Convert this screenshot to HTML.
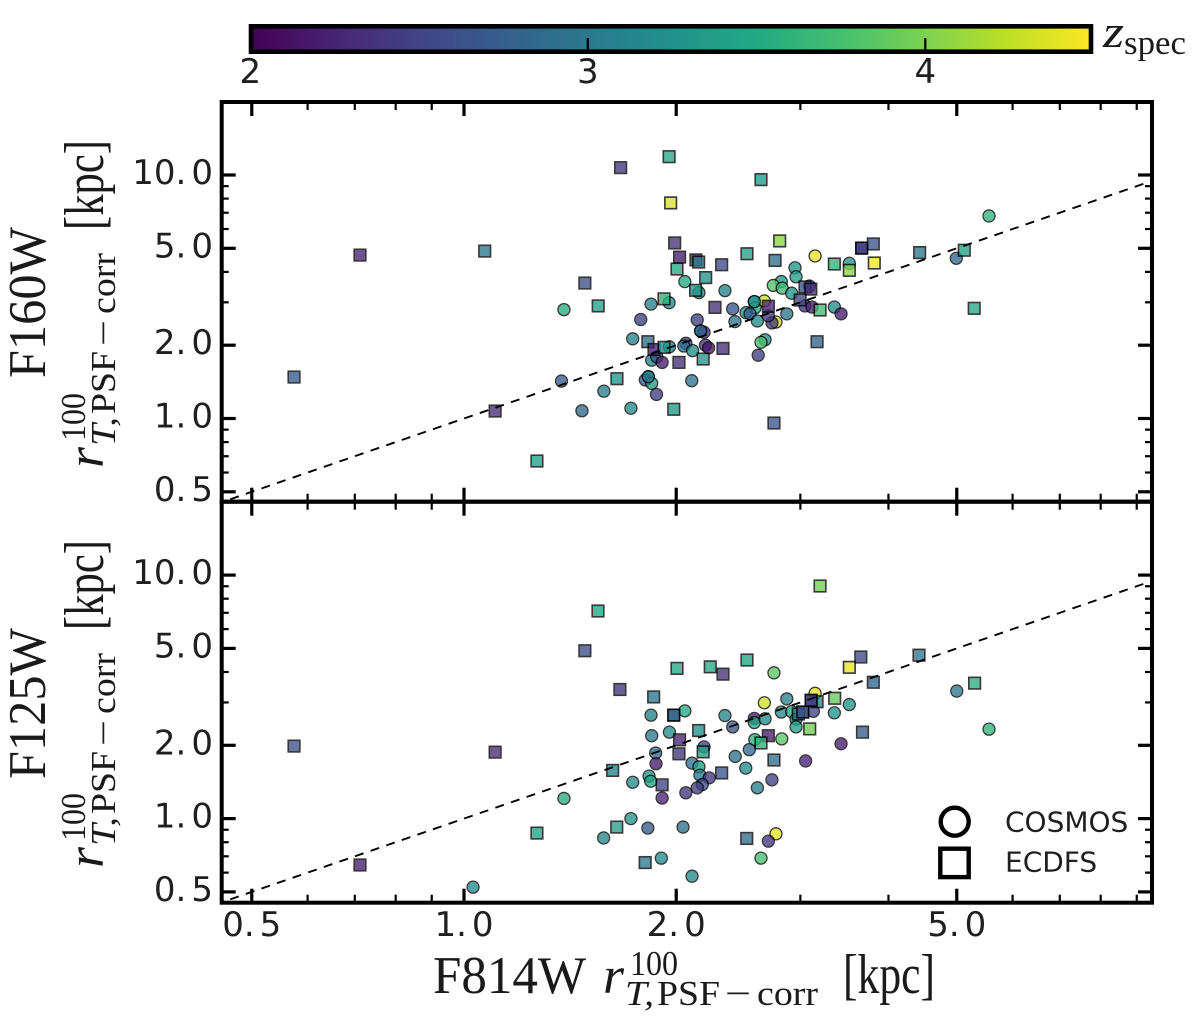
<!DOCTYPE html>
<html lang="en">
<head>
<meta charset="utf-8">
<title>F814W vs F160W and F125W sizes</title>
<style>
html,body{margin:0;padding:0;background:#fff;}
svg{display:block;}
.tick{font-family:"DejaVu Sans","Liberation Sans",sans-serif;font-size:34px;fill:#1f1f1f;}
.leg{font-family:"DejaVu Sans","Liberation Sans",sans-serif;font-size:28px;fill:#1f1f1f;}
.s{font-family:"Liberation Serif",serif;fill:#1a1a1a;}
.i{font-style:italic;}
</style>
</head>
<body>
<svg id="chart" xmlns="http://www.w3.org/2000/svg" width="1200" height="1022" viewBox="0 0 1200 1022">
<rect x="0" y="0" width="1200" height="1022" fill="#fff"/>
<defs><linearGradient id="cbGrad" x1="0" y1="0" x2="1" y2="0"></linearGradient></defs>

<g id="colorbar">
<rect x="251" y="27" width="840" height="24" fill="url(#cbGrad)"/>
<g id="cbTicks"></g>
<rect x="251" y="26.3" width="840" height="25.4" fill="none" stroke="#000" stroke-width="4.6"/>
</g>
<g>
<text class="s i" x="1103" y="47" font-size="46" textLength="21" lengthAdjust="spacingAndGlyphs">z</text>
<text class="s" x="1124" y="54" font-size="34" textLength="62" lengthAdjust="spacingAndGlyphs">spec</text>
</g>

<g id="panelTop"></g>
<g id="panelBot"></g>

<g><text class="s" transform="translate(45,378) rotate(-90)" font-size="53" textLength="151" lengthAdjust="spacingAndGlyphs">F160W</text></g>
<g transform="translate(103,468) rotate(-90)">
<text class="s i" x="0" y="0" font-size="52" textLength="21" lengthAdjust="spacingAndGlyphs">r</text>
<text class="s" x="27" y="-18" font-size="35" textLength="48" lengthAdjust="spacingAndGlyphs">100</text>
<text class="s i" x="22" y="12" font-size="35" textLength="29" lengthAdjust="spacingAndGlyphs">T,</text>
<text class="s" x="54" y="12" font-size="35" textLength="63" lengthAdjust="spacingAndGlyphs">PSF</text>
<text class="s" x="122" y="12" font-size="35" textLength="26" lengthAdjust="spacingAndGlyphs">−</text>
<text class="s" x="154" y="12" font-size="35" textLength="61" lengthAdjust="spacingAndGlyphs">corr</text>
<text class="s" x="238" y="0" font-size="56" textLength="90" lengthAdjust="spacingAndGlyphs">[kpc]</text>
</g>
<g><text class="s" transform="translate(45,779) rotate(-90)" font-size="53" textLength="151" lengthAdjust="spacingAndGlyphs">F125W</text></g>
<g transform="translate(103,868) rotate(-90)">
<text class="s i" x="0" y="0" font-size="52" textLength="21" lengthAdjust="spacingAndGlyphs">r</text>
<text class="s" x="27" y="-18" font-size="35" textLength="48" lengthAdjust="spacingAndGlyphs">100</text>
<text class="s i" x="22" y="12" font-size="35" textLength="29" lengthAdjust="spacingAndGlyphs">T,</text>
<text class="s" x="54" y="12" font-size="35" textLength="63" lengthAdjust="spacingAndGlyphs">PSF</text>
<text class="s" x="122" y="12" font-size="35" textLength="26" lengthAdjust="spacingAndGlyphs">−</text>
<text class="s" x="154" y="12" font-size="35" textLength="61" lengthAdjust="spacingAndGlyphs">corr</text>
<text class="s" x="238" y="0" font-size="56" textLength="90" lengthAdjust="spacingAndGlyphs">[kpc]</text>
</g>
<g>
<text class="s" x="433" y="993" font-size="53" textLength="153" lengthAdjust="spacingAndGlyphs">F814W</text>
<g transform="translate(603,993)">
<text class="s i" x="0" y="0" font-size="52" textLength="21" lengthAdjust="spacingAndGlyphs">r</text>
<text class="s" x="27" y="-18" font-size="35" textLength="48" lengthAdjust="spacingAndGlyphs">100</text>
<text class="s i" x="22" y="12" font-size="35" textLength="29" lengthAdjust="spacingAndGlyphs">T,</text>
<text class="s" x="54" y="12" font-size="35" textLength="63" lengthAdjust="spacingAndGlyphs">PSF</text>
<text class="s" x="122" y="12" font-size="35" textLength="26" lengthAdjust="spacingAndGlyphs">−</text>
<text class="s" x="154" y="12" font-size="35" textLength="61" lengthAdjust="spacingAndGlyphs">corr</text>
<text class="s" x="240" y="0" font-size="56" textLength="92" lengthAdjust="spacingAndGlyphs">[kpc]</text>
</g>
</g>

<g>
<g>
<circle cx="954.7" cy="821.7" r="14" fill="#fff" stroke="#000" stroke-width="4.4"/>
<text class="leg" x="1005" y="831.5">COSMOS</text>
</g>
<g>
<rect x="940.3" y="848.7" width="28.4" height="28.4" fill="#fff" stroke="#000" stroke-width="4.4"/>
<text class="leg" x="1005" y="871.5">ECDFS</text>
</g>
</g>
</svg>
<script>
// Axis ticks
const xMajorTicks = [0.5, 1, 2, 5];
const xMajorLabels = ['0.5', '1.0', '2.0', '5.0'];
const yMajorTicks = [0.5, 1, 2, 5, 10];
const yMajorLabels = ['0.5', '1.0', '2.0', '5.0', '10.0'];
const minorTicksX = [0.6, 0.7, 0.8, 0.9, 3, 4, 6, 7, 8, 9];
const minorTicksY = [0.6, 0.7, 0.8, 0.9, 3, 4, 6, 7, 8, 9];
const zTicks = [2, 3, 4];
const zLabels = ['2', '3', '4'];
const viridis = ['#440154','#482475','#414487','#355f8d','#2a788e','#21918c','#22a884','#44bf70','#7ad151','#bddf26','#fde725'];
const zRange = [2, 4.49];
const oneToOne = [0.4, 10];

// F160W panel, COSMOS
const f160CosmosX = [5.555,4.992,3.148,3.52,2.948,2.958,2.819,2.746,2.827,2.916,3.09,2.057,2.154,2.345,2.581,2.667,2.587,2.512,2.405,2.545,2.87,2.607,2.423,1.842,1.954,1.386,1.781,2.142,2.166,2.19,2.77,2.734,2.702,3.046,3.116,3.352,3.426,1.735,1.956,2.064,2.05,2.11,2.2,2.223,1.846,1.877,1.91,1.375,1.579,1.47,1.725,1.826,1.808,1.846,1.875,2.104,2.614,2.673,2.638,2.166,2.581,1.826];
const f160CosmosY = [6.79,4.55,4.65,4.34,4.16,3.82,3.65,3.52,3.43,3.27,3.5,3.65,3.29,3.35,3.02,3.04,2.85,2.72,2.82,2.69,2.69,2.515,2.5,2.95,2.99,2.8,2.55,2.54,2.29,2.26,2.49,2.47,2.64,2.9,2.87,2.87,2.69,2.125,1.97,2.036,1.985,1.9,2.0,1.95,1.735,1.79,1.7,1.425,1.295,1.076,1.102,1.485,1.44,1.395,1.256,1.43,1.82,2.106,2.055,2.29,3.02,1.485];
const f160CosmosZ = [3.6,2.85,4.4,3.3,3.3,3.4,3.3,3.8,3.7,3.3,2.5,3.5,3.3,3.1,3.4,4.3,3.5,3.3,2.65,2.7,3.0,3.2,3.0,3.1,3.2,3.55,2.45,2.45,2.9,2.4,4.35,2.4,2.4,2.4,2.25,3.2,2.2,3.1,3.1,2.5,2.9,3.2,2.35,2.15,3.1,2.6,2.2,2.7,3.1,2.85,3.2,3.2,2.7,3.35,2.45,2.95,2.45,3.2,3.75,2.8,3.3,3.0];

// F160W panel, ECDFS
const f160EcdfsX = [1.668,1.954,2.638,1.964,1.99,2.804,2.022,2.133,2.152,2.32,2.52,2.762,3.665,3.807,3.352,3.52,3.819,2.005,2.202,1.484,2.131,1.922,1.55,2.27,3.046,3.104,2.997,2.702,3.199,1.823,1.86,1.922,2.33,2.018,2.184,3.168,1.648,1.984,2.752,0.574,0.712,1.07,1.107,1.269,4.429,5.124,5.293,3.665];
const f160EcdfsY = [10.72,11.89,9.57,7.68,5.26,5.36,4.6,4.48,4.39,4.28,4.75,4.46,5.01,5.21,4.31,4.06,4.35,4.11,3.79,3.6,3.36,3.1,2.9,2.86,3.47,3.4,3.067,2.89,2.79,2.067,1.92,1.96,1.94,1.7,1.755,2.067,1.457,1.091,0.958,1.48,4.69,4.87,1.073,0.669,4.8,4.91,2.835,5.01];
const f160EcdfsZ = [2.4,3.5,3.35,4.35,2.35,4.05,2.2,2.3,3.0,2.55,3.45,2.9,2.55,2.65,3.6,4.05,4.45,3.5,3.25,2.6,3.3,3.6,3.4,2.35,2.6,2.3,2.5,2.25,3.7,2.9,2.2,3.2,2.3,2.35,3.3,2.8,3.3,3.35,2.65,2.7,2.25,3.0,2.3,3.4,3.0,3.4,3.5,2.4];

// F125W panel, COSMOS
const f125CosmosX = [2.752,3.148,2.87,2.667,3.52,3.352,2.057,1.842,2.345,2.405,2.581,2.581,2.673,2.819,2.916,2.958,2.958,3.13,1.956,1.846,2.823,2.585,2.539,3.426,2.425,1.87,2.19,3.052,1.872,2.106,2.154,2.51,2.161,2.227,2.734,1.83,1.84,1.735,2.607,2.178,2.142,2.064,1.91,1.386,1.725,1.823,2.045,1.578,2.77,2.702,2.638,1.905,2.106,1.03,5.0,5.555];
const f125CosmosY = [3.97,3.27,3.1,2.99,2.94,2.72,2.77,2.66,2.65,2.38,2.58,2.48,2.57,2.74,2.75,2.56,2.38,2.76,2.265,2.19,2.125,2.11,1.92,2.03,1.8,1.86,1.97,1.725,1.68,1.69,1.632,1.612,1.509,1.47,1.443,1.494,1.424,1.41,1.338,1.38,1.338,1.277,1.215,1.21,1.0,0.914,0.923,0.833,0.866,0.808,0.688,0.688,0.58,0.523,3.34,2.33];
const f125CosmosZ = [3.85,4.4,3.1,4.3,3.3,3.25,3.5,3.1,3.15,2.65,2.2,3.45,3.2,3.2,3.5,3.3,3.4,2.5,3.2,3.0,3.85,3.6,2.85,2.2,2.95,2.85,2.5,2.25,2.2,2.95,3.4,3.2,3.0,2.4,2.45,3.3,3.45,3.2,3.1,2.55,2.45,2.4,2.25,3.55,3.3,2.7,2.95,3.15,4.4,2.4,3.75,3.2,3.2,3.2,3.0,3.6];

// F125W panel, ECDFS
const f125EcdfsX = [1.484,2.005,2.235,2.33,2.52,3.655,3.52,1.664,1.858,1.984,1.984,2.152,2.022,2.018,2.184,2.702,2.638,2.752,2.32,1.91,1.625,1.647,2.518,3.807,3.675,3.356,3.093,3.168,3.107,3.024,2.98,0.574,0.712,1.107,1.269,1.549,3.199,4.42,5.3,1.807,3.107,3.024];
const f125EcdfsY = [4.89,4.14,4.2,3.92,4.48,4.61,4.18,3.39,3.16,2.66,2.66,2.3,2.106,1.845,1.88,2.19,2.045,1.74,1.54,1.376,1.577,0.923,0.829,3.63,2.265,3.12,2.336,3.02,3.06,2.74,2.69,1.985,0.645,1.875,0.872,7.12,9.02,4.69,3.6,0.66,3.06,2.74];
const f125EcdfsZ = [2.6,3.5,3.5,2.35,3.45,2.55,4.4,2.4,3.0,2.4,2.9,3.25,2.25,2.4,3.45,2.2,3.6,2.9,2.65,2.5,3.1,3.4,2.9,2.8,2.75,3.9,3.95,3.1,2.3,2.7,2.9,2.65,2.2,2.3,3.45,3.45,3.95,3.0,3.55,3.0,2.5,2.6];

const SVGNS = 'http://www.w3.org/2000/svg';
const LEFT = 221.7, RIGHT = 1152;

function xScale(v) { return 464 + 705 * Math.log10(v); }
function yScaleTop(v) { return 418.5 - 243.5 * Math.log10(v); }
function yScaleBot(v) { return 818.6 - 243.5 * Math.log10(v); }
function cbScale(z) { return 250.3 + 337.5 * (z - 2); }

function hexToRgb(h) {
  return [parseInt(h.slice(1, 3), 16), parseInt(h.slice(3, 5), 16), parseInt(h.slice(5, 7), 16)];
}
function zColor(z) {
  const t = Math.min(1, Math.max(0, (z - zRange[0]) / (zRange[1] - zRange[0]))) * (viridis.length - 1);
  const i = Math.min(viridis.length - 2, Math.floor(t));
  const f = t - i;
  const a = hexToRgb(viridis[i]);
  const b = hexToRgb(viridis[i + 1]);
  return 'rgb(' + a.map(function (c, k) { return Math.round(c + (b[k] - c) * f); }).join(',') + ')';
}
function make(tag, attrs, parent) {
  const el = document.createElementNS(SVGNS, tag);
  Object.keys(attrs).forEach(function (k) { el.setAttribute(k, attrs[k]); });
  parent.appendChild(el);
  return el;
}
function addLabel(parent, label, x, y, anchor) {
  const t = make('text', { x: x, y: y, 'text-anchor': anchor, class: 'tick' }, parent);
  
  
  const parts = label.split('.');
  if (parts.length === 2) {
    const a = make('tspan', {}, t);
    a.textContent = parts[0] + '.';
    const b = make('tspan', { dx: 5 }, t);
    b.textContent = parts[1];
  } else {
    t.textContent = label;
  }
}
function addTick(parent, x1, y1, x2, y2, w) {
  const l = make('line', { x1: x1, y1: y1, x2: x2, y2: y2, stroke: '#000', 'stroke-width': w }, parent);
  
  
}

function drawPanel(group, yScale, top, bottom, circX, circY, circZ, sqX, sqY, sqZ, showXLabels) {
  // one-to-one dashed relation
  const clipId = group.id + 'Clip';
  const defs = make('defs', {}, group);
  const clip = make('clipPath', { id: clipId }, defs);
  make('rect', { x: LEFT, y: top, width: RIGHT - LEFT, height: bottom - top }, clip);

  const marks = make('g', { 'clip-path': 'url(#' + clipId + ')' }, group);
  
  

  circX.forEach(function (v, i) {
    const c = make('circle', {
      cx: xScale(v), cy: yScale(circY[i]), r: 6,
      fill: zColor(circZ[i]), stroke: '#000', 'stroke-width': 1.3, opacity: 0.78
    }, marks);
    
    
  });
  sqX.forEach(function (v, i) {
    const s = make('rect', {
      x: xScale(v) - 5.8, y: yScale(sqY[i]) - 5.8, width: 11.6, height: 11.6,
      fill: zColor(sqZ[i]), stroke: '#000', 'stroke-width': 1.6, opacity: 0.78
    }, marks);
    
    
  });
  const line = make('line', {
    x1: xScale(oneToOne[0]), y1: yScale(oneToOne[0]),
    x2: xScale(oneToOne[1]), y2: yScale(oneToOne[1]),
    stroke: '#000', 'stroke-width': 1.9, 'stroke-dasharray': '9 7.5'
  }, marks);
  
  

  // x ticks on bottom and top spines
  xMajorTicks.forEach(function (v, i) {
    const x = xScale(v);
    addTick(group, x, top, x, top + 14, 3.2);
    addTick(group, x, bottom, x, bottom - 14, 3.2);
    if (showXLabels) addLabel(group, xMajorLabels[i], x, 936, 'middle');
  });
  minorTicksX.forEach(function (v) {
    const x = xScale(v);
    addTick(group, x, top, x, top + 8, 2.2);
    addTick(group, x, bottom, x, bottom - 8, 2.2);
  });
  // y ticks on left and right spines
  yMajorTicks.forEach(function (v, i) {
    const y = yScale(v);
    addTick(group, LEFT, y, LEFT + 14, y, 3.2);
    addTick(group, RIGHT, y, RIGHT - 14, y, 3.2);
    addLabel(group, yMajorLabels[i], 213, y + 9, 'end');
  });
  minorTicksY.forEach(function (v) {
    const y = yScale(v);
    addTick(group, LEFT, y, LEFT + 7, y, 2.2);
    addTick(group, RIGHT, y, RIGHT - 7, y, 2.2);
  });

  const frame = make('rect', { x: LEFT, y: top, width: RIGHT - LEFT, height: bottom - top, fill: 'none', stroke: '#000', 'stroke-width': 4 }, group);
  
  
}

// colorbar gradient
const grad = document.getElementById('cbGrad');
viridis.forEach(function (c, i) {
  make('stop', { offset: i / (viridis.length - 1), 'stop-color': c }, grad);
});
const cbTicks = document.getElementById('cbTicks');
zTicks.forEach(function (z, i) {
  const x = cbScale(z);
  addTick(cbTicks, x, 38, x, 50, 2.2);
  addLabel(cbTicks, zLabels[i], x, 83, 'middle');
});

drawPanel(document.getElementById('panelTop'), yScaleTop, 102, 501.7,
  f160CosmosX, f160CosmosY, f160CosmosZ, f160EcdfsX, f160EcdfsY, f160EcdfsZ, false);
drawPanel(document.getElementById('panelBot'), yScaleBot, 501.7, 902.7,
  f125CosmosX, f125CosmosY, f125CosmosZ, f125EcdfsX, f125EcdfsY, f125EcdfsZ, true);
</script>
</body>
</html>
